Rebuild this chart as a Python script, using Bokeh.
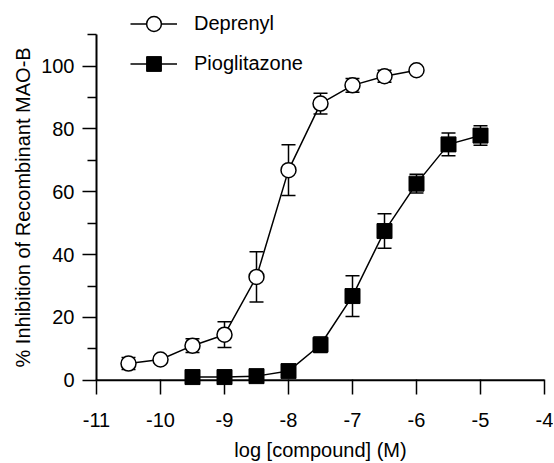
from bokeh.plotting import figure
from bokeh.models import (Range1d, FixedTicker, Span, Whisker, TeeHead,
                          ColumnDataSource, Legend, LegendItem, Title)
from bokeh.embed import file_html
from bokeh.resources import INLINE

# ---- data ----
log_conc_deprenyl = [-10.5, -10, -9.5, -9, -8.5, -8, -7.5, -7, -6.5, -6]
inhib_deprenyl = [5.3, 6.6, 11.0, 14.5, 32.9, 66.9, 88.1, 93.9, 96.8, 98.7]
sem_deprenyl = [1.9, 0.0, 2.2, 4.1, 8.0, 8.1, 3.3, 2.2, 1.9, 0.0]

log_conc_pio = [-9.5, -9, -8.5, -8, -7.5, -7, -6.5, -6, -5.5, -5]
inhib_pio = [1.0, 1.0, 1.3, 2.9, 11.3, 26.8, 47.5, 62.6, 75.1, 77.9]
sem_pio = [0.0, 0.0, 0.0, 0.0, 2.5, 6.5, 5.5, 3.0, 3.6, 3.1]

x_ticks = [-11, -10, -9, -8, -7, -6, -5, -4]
x_tick_labels = ["-11", "-10", "-9", "-8", "-7", "-6", "-5", "-4"]
y_ticks = [0, 20, 40, 60, 80, 100]
y_minor_ticks = [10, 30, 50, 70, 90, 110]

series_names = ["Deprenyl", "Pioglitazone"]
x_label = "log [compound] (M)"
y_label = "% Inhibition of Recombinant MAO-B"

FONT = "Liberation Sans"
FS = "20px"

p = figure(frame_width=448, frame_height=394,
           min_border_left=96, min_border_right=9,
           min_border_top=0, min_border_bottom=68,
           x_range=Range1d(-11, -4), y_range=Range1d(-4.55, 120.92),
           output_backend="svg", toolbar_location=None)
p.outline_line_color = None
p.xgrid.visible = False
p.ygrid.visible = False
p.background_fill_color = "white"
p.border_fill_color = "white"

# x axis (drawn at frame bottom, ticks reach up to the y=0 line)
xa = p.xaxis[0]
xa.ticker = FixedTicker(ticks=x_ticks, minor_ticks=[])
xa.major_label_overrides = {t: s for t, s in zip(x_ticks, x_tick_labels)}
xa.axis_line_color = None
xa.major_tick_in = 15
xa.major_tick_out = 0
xa.major_tick_line_width = 1.5
xa.major_tick_line_color = "black"
xa.minor_tick_line_color = None
xa.major_label_standoff = 18
xa.major_label_text_font = FONT
xa.major_label_text_font_size = FS
xa.major_label_text_color = "black"
xa.axis_label = x_label
xa.axis_label_text_font = FONT
xa.axis_label_text_font_size = FS
xa.axis_label_text_font_style = "normal"
xa.axis_label_text_color = "black"
xa.axis_label_standoff = 9

ya = p.yaxis[0]
ya.ticker = FixedTicker(ticks=y_ticks, minor_ticks=y_minor_ticks)
ya.bounds = (0, 110)
ya.axis_line_width = 2
ya.axis_line_color = "black"
ya.major_tick_in = 0
ya.major_tick_out = 14
ya.minor_tick_in = 0
ya.minor_tick_out = 9
ya.major_tick_line_width = 1.5
ya.minor_tick_line_width = 1.5
ya.major_tick_line_color = "black"
ya.minor_tick_line_color = "black"
ya.major_label_standoff = 8
ya.major_label_text_font = FONT
ya.major_label_text_font_size = FS
ya.major_label_text_color = "black"

# y axis title, placed with an offset from the bottom of the frame
p.add_layout(Title(text=y_label, align="left", offset=27, standoff=10,
                   text_font=FONT, text_font_size=FS,
                   text_font_style="normal", text_color="black"), "left")

# x axis line at y = 0
p.add_layout(Span(location=0, dimension="width", line_color="black", line_width=2))


def whisker_source(xs, ys, es):
    bx, up, lo = [], [], []
    for x, y, e in zip(xs, ys, es):
        if e > 0:
            bx.append(x)
            up.append(y + e)
            lo.append(y - e)
    return ColumnDataSource(dict(base=bx, upper=up, lower=lo))


for xs, ys, es in [(log_conc_deprenyl, inhib_deprenyl, sem_deprenyl),
                   (log_conc_pio, inhib_pio, sem_pio)]:
    w = Whisker(base="base", upper="upper", lower="lower",
                source=whisker_source(xs, ys, es), dimension="height",
                line_color="black", line_width=1.5,
                upper_head=TeeHead(size=14, line_color="black", line_width=1.5),
                lower_head=TeeHead(size=14, line_color="black", line_width=1.5))
    p.add_layout(w)

l1 = p.line(log_conc_deprenyl, inhib_deprenyl, line_color="black", line_width=1.5)
s1 = p.scatter(log_conc_deprenyl, inhib_deprenyl, marker="circle", size=15,
               fill_color="white", line_color="black", line_width=1.5)
l2 = p.line(log_conc_pio, inhib_pio, line_color="black", line_width=1.5)
s2 = p.scatter(log_conc_pio, inhib_pio, marker="square", size=15,
               fill_color="black", line_color="black", line_width=1)

legend = Legend(items=[LegendItem(label=series_names[0], renderers=[l1, s1]),
                       LegendItem(label=series_names[1], renderers=[l2, s2])],
                location=(34, 312), glyph_width=47, glyph_height=37,
                label_height=37, spacing=3, padding=0, margin=0,
                label_standoff=17, label_text_font=FONT,
                label_text_font_size=FS, label_text_color="black",
                border_line_color=None, background_fill_alpha=0)
p.add_layout(legend)

open("out.html", "w").write(file_html(p, INLINE))
